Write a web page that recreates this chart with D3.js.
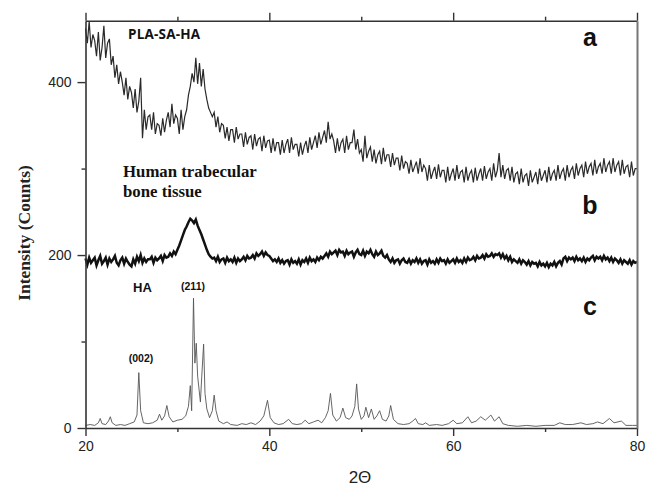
<!DOCTYPE html>
<html><head><meta charset="utf-8">
<script src="https://cdn.jsdelivr.net/npm/d3@7"></script>
<style>body{margin:0;background:#fff;}svg{display:block;}</style>
</head><body>
<svg id="chart" width="654" height="488"></svg>
<script>
// ---------- data ----------
const xStart = 20, xStep = 0.2;            // sample grid of curves a and b (2θ)
// a: PLA-SA-HA
const seriesA = [
462,445,470,440,455, 448,430,458,425,440, 465,428,445,450,420, 430,405,420,398,412,
400,385,405,380,395, 388,370,392,365,378, 405,335,368,345,360, 362,345,365,340,352,
350,338,358,342,356, 365,348,375,352,362, 358,340,368,345,360, 368,385,395,410,400,
428,398,422,395,415, 392,380,370,365,360, 365,348,360,342,352, 350,335,348,332,345,
345,330,348,334,340, 340,325,342,328,336, 338,322,340,326,334, 336,320,338,324,332,
333,318,335,320,330, 330,316,333,318,328, 334,318,336,322,328, 328,314,330,316,326,
332,318,336,322,330, 338,324,342,328,336, 344,330,354,334,340, 332,318,335,320,330,
334,318,338,322,330, 330,345,322,334,318, 322,308,338,312,320, 325,308,322,306,316,
320,305,324,308,316, 316,302,318,304,312, 312,298,315,300,308, 306,294,310,296,302,
308,294,312,296,304, 300,286,304,288,296, 302,288,305,290,298, 298,284,302,286,294,
300,286,304,288,296, 298,284,302,286,294, 298,284,301,286,294, 300,286,303,288,296,
300,286,306,290,298, 318,290,304,288,298, 300,286,302,284,294, 296,282,300,284,292,
294,280,298,284,290, 296,282,300,286,292, 298,284,302,286,294, 298,286,304,288,296,
300,286,304,290,298, 302,288,306,292,300, 304,290,308,294,302, 306,292,310,294,302,
306,294,312,296,304, 308,294,312,296,304, 308,292,310,294,302, 304,290,308,292,300,
300];
// b: Human trabecular bone tissue
const seriesB = [
196,189,197,191,194, 197,188,194,199,190, 193,197,189,196,192, 195,199,191,188,194,
197,190,196,192,189, 187,195,190,198,193, 200,191,196,192,195, 195,198,191,197,194,
196,199,193,200,197, 198,202,199,204,201, 206,211,217,223,229, 233,238,242,240,237,
241,234,229,224,218, 212,206,201,198,196, 197,193,198,192,195, 196,191,197,193,195,
192,197,191,196,193, 195,198,194,199,196, 197,200,196,202,199, 201,204,199,203,200,
199,196,193,195,192, 196,191,194,190,193, 194,189,195,191,193, 190,195,189,194,192,
196,191,197,193,195, 192,197,194,198,196, 199,202,198,204,201, 203,205,200,206,203,
204,199,205,201,203, 204,198,203,206,201, 200,205,199,204,202, 206,201,198,204,200,
202,205,199,197,200, 195,192,196,191,194, 195,190,194,196,192, 191,195,190,194,192,
196,191,195,190,193, 194,189,195,191,193, 190,195,191,196,193, 194,190,195,191,193,
195,191,196,192,194, 191,196,192,197,194, 195,198,194,199,196, 197,200,196,201,198,
199,202,198,201,200, 202,197,201,196,199, 194,198,192,195,193, 191,195,190,194,192,
189,193,188,192,190, 191,187,192,188,190, 187,191,186,190,188, 192,187,191,193,189,
196,198,193,197,195, 197,193,198,194,196, 193,197,192,196,194, 197,199,194,198,196,
198,194,199,195,197, 193,197,192,196,194, 191,195,190,194,192, 190,194,189,193,191,
192];
// c: HA  [2θ, counts]
const seriesC = [
[20,3],[20.5,4],[21,3],[21.4,6],[21.6,11],[21.8,5],[22.2,4],[22.5,8],[22.7,13],[22.9,6],
[23.3,3],[23.8,4],[24.3,3],[24.8,5],[25.3,7],[25.6,15],[25.8,64],[26.0,20],[26.3,6],[26.8,5],
[27.3,6],[27.8,9],[28.05,16],[28.3,9],[28.6,14],[28.85,26],[29.1,13],[29.5,7],[30,9],[30.5,10],
[30.9,14],[31.2,25],[31.4,49],[31.55,20],[31.75,150],[31.9,75],[32.05,98],[32.2,60],[32.35,45],
[32.5,30],[32.65,60],[32.85,97],[33.0,40],[33.2,22],[33.5,12],[33.8,20],[34.0,38],[34.2,20],
[34.5,8],[35,5],[35.4,7],[35.8,4],[36.5,3],[37,5],[37.5,4],[38,6],[38.5,4],[39,8],[39.4,14],
[39.8,32],[40.1,12],[40.5,6],[41,4],[41.5,5],[42.1,10],[42.5,5],[43,4],[43.5,5],[43.9,9],
[44.3,5],[44.8,7],[45.3,9],[45.7,6],[46.1,12],[46.4,20],[46.65,40],[46.9,15],[47.3,8],[47.7,12],
[48.0,23],[48.3,12],[48.7,10],[49.0,14],[49.3,25],[49.5,51],[49.7,22],[50.0,10],[50.3,14],
[50.5,24],[50.8,12],[51.1,22],[51.4,10],[51.7,14],[52.0,20],[52.3,10],[52.7,8],[53.0,14],
[53.2,26],[53.5,10],[54,5],[54.6,4],[55.2,5],[55.6,8],[55.9,11],[56.2,5],[56.7,4],[57.0,6],
[57.4,3],[58.2,4],[58.8,3],[59.5,5],[60.0,9],[60.4,5],[61,6],[61.6,13],[62,6],[62.5,8],
[63.0,13],[63.5,9],[64.1,15],[64.5,8],[65.0,13],[65.4,5],[66,3],[67,2],[68,3],[69,2],[70,3],
[71,3],[71.6,6],[72.2,4],[73,4],[73.9,6],[74.5,4],[75.2,5],[75.7,7],[76.3,5],[77.0,11],
[77.5,6],[78.3,8],[78.8,3],[79.5,3],[80,3]];
const xTicks = [20, 40, 60, 80];
const xMinorTicks = [30, 50, 70];
const yTicks = [0, 200, 400];
const yMinorTicks = [100, 300];
const xDomain = [20, 80];
const yDomain = [0, 471];

// ---------- drawing ----------
const svg = d3.select("#chart");
const m = {left: 85.5, right: 637, top: 20.7, bottom: 428};
const x = d3.scaleLinear().domain(xDomain).range([m.left, m.right]);
const y = d3.scaleLinear().domain(yDomain).range([m.bottom, m.top]);

const toPts = arr => arr.map((v, i) => [xStart + i * xStep, v]);
const line = d3.line().x(d => x(d[0])).y(d => y(d[1]));

svg.append("path").datum(seriesC).attr("d", line)
  .attr("fill", "none").attr("stroke", "#555").attr("stroke-width", 0.9);
svg.append("path").datum(toPts(seriesB)).attr("d", line)
  .attr("fill", "none").attr("stroke", "#111").attr("stroke-width", 2.5);
svg.append("path").datum(toPts(seriesA)).attr("d", line)
  .attr("fill", "none").attr("stroke", "#2a2a2a").attr("stroke-width", 1.2);

// axes
const axCol = "#333";
function styleAxis(g, fs) {
  g.select(".domain").attr("stroke", axCol).attr("stroke-width", 1.6);
  g.selectAll(".tick line").attr("stroke", axCol).attr("stroke-width", 1.4);
  g.selectAll("text").attr("font-family", "'Liberation Sans', Arial, sans-serif")
    .attr("font-size", fs).attr("fill", "#222");
}
const gBottom = svg.append("g").attr("transform", `translate(0,${m.bottom})`)
  .call(d3.axisBottom(x).tickValues(xTicks).tickSize(8).tickPadding(5).tickSizeOuter(0));
styleAxis(gBottom, 14);
svg.append("g").attr("transform", `translate(0,${m.bottom})`)
  .call(d3.axisBottom(x).tickValues(xMinorTicks).tickSize(4).tickFormat("").tickSizeOuter(0))
  .call(g => { g.select(".domain").remove(); styleAxis(g, 0); });

const gTop = svg.append("g").attr("transform", `translate(0,${m.top})`)
  .call(d3.axisTop(x).tickValues(xTicks).tickSize(8).tickFormat("").tickSizeOuter(0));
styleAxis(gTop, 0);
svg.append("g").attr("transform", `translate(0,${m.top})`)
  .call(d3.axisTop(x).tickValues(xMinorTicks).tickSize(4).tickFormat("").tickSizeOuter(0))
  .call(g => { g.select(".domain").remove(); styleAxis(g, 0); });

const gLeft = svg.append("g").attr("transform", `translate(${m.left},0)`)
  .call(d3.axisLeft(y).tickValues(yTicks).tickSize(8).tickPadding(6).tickSizeOuter(0));
styleAxis(gLeft, 14);
svg.append("g").attr("transform", `translate(${m.left},0)`)
  .call(d3.axisLeft(y).tickValues(yMinorTicks).tickSize(4).tickFormat("").tickSizeOuter(0))
  .call(g => { g.select(".domain").remove(); styleAxis(g, 0); });

const gRight = svg.append("g").attr("transform", `translate(${m.right},0)`)
  .call(d3.axisRight(y).tickValues([]).tickSizeOuter(0));
gRight.select(".domain").attr("stroke", "#777").attr("stroke-width", 2);

// axis titles
svg.append("text").attr("x", 360).attr("y", 483)
  .attr("text-anchor", "middle").attr("font-family", "'Liberation Sans', Arial, sans-serif")
  .attr("font-size", 17).attr("fill", "#222").text("2Θ");
svg.append("text").attr("transform", "translate(30,233) rotate(-90)")
  .attr("text-anchor", "middle").attr("font-family", "'Liberation Serif', 'Times New Roman', serif")
  .attr("font-weight", "bold").attr("font-size", 17.5).attr("fill", "#222").text("Intensity (Counts)");

// annotations
const ann = (t, px, py, fam, fs, anchor) => svg.append("text").attr("x", px).attr("y", py)
  .attr("text-anchor", anchor || "start").attr("font-family", fam).attr("font-weight", "bold")
  .attr("font-size", fs).attr("fill", "#111").text(t);
const sans = "'Liberation Sans', Arial, sans-serif";
const serif = "'Liberation Serif', 'Times New Roman', serif";
ann("PLA-SA-HA", 128, 38.5, "'Open Sans', sans-serif", 13.5).attr("letter-spacing", 0.2);
ann("Human trabecular", 123, 177, serif, 16.8);
ann("bone tissue", 123, 196.5, serif, 16.8);
ann("HA", 133, 292, sans, 13);
ann("(211)", 193, 290, sans, 10.5, "middle");
ann("(002)", 141, 362, sans, 10.5, "middle");
ann("a", 590, 46, sans, 25, "middle");
ann("b", 590, 214, sans, 25, "middle");
ann("c", 590, 315, sans, 25, "middle");
</script>
</body></html>
